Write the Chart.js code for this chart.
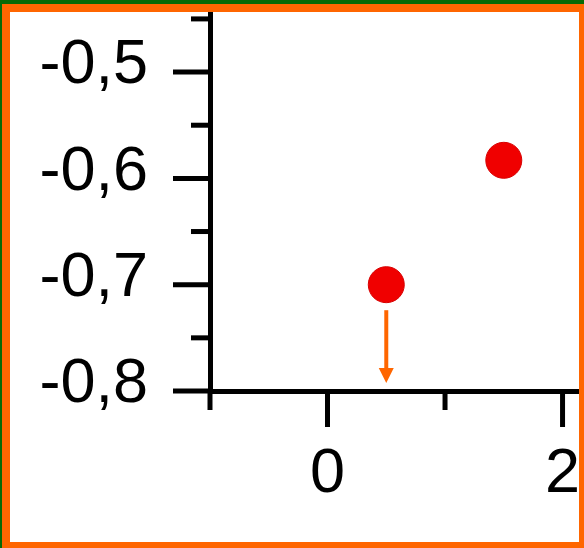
<!DOCTYPE html>
<html>
<head>
<meta charset="utf-8">
<script src="https://cdn.jsdelivr.net/npm/chart.js@4/dist/chart.umd.min.js"></script>
<style>
  html, body { margin: 0; padding: 0; background: #066a06; }
  #frame { position: absolute; left: 2px; top: 4px; width: 582px; height: 544px; background: #ff6600; }
  #inner { position: absolute; left: 8px; top: 8px; width: 569px; height: 530px; background: #fff; overflow: hidden; }
  canvas { display: block; }
</style>
</head>
<body>
<div id="frame"><div id="inner"><canvas id="chart" width="569" height="530"></canvas></div></div>
<script>
(function() {
  // points
  const xValues = [0.5, 1.5];
  const yValues = [-0.7, -0.583];

  // axis ticks
  const xMajorTicks = [0, 2];
  const xMinorTicks = [-1, 1];
  const yMajorTicks = [-0.8, -0.7, -0.6, -0.5];
  const yMinorTicks = [-0.75, -0.65, -0.55, -0.45];

  // arrow under the first point
  const arrowX = 0.5;
  const arrowFrom = -0.724;
  const arrowTo = -0.7925;

  const FONT = { family: '"Liberation Sans", Arial, sans-serif', size: 63 };
  const fmt = v => (Math.round(v * 10) / 10).toFixed(1).replace('.', ',');

  const tickMarks = {
    id: 'tickMarks',
    afterDraw(chart) {
      const ctx = chart.ctx;
      const xs = chart.scales.x, ys = chart.scales.y;
      const ax = chart.chartArea.left, ay = chart.chartArea.bottom;
      ctx.save();
      ctx.strokeStyle = '#000';
      ctx.lineWidth = 5;
      ctx.lineCap = 'butt';
      function line(x1, y1, x2, y2) {
        ctx.beginPath(); ctx.moveTo(x1, y1); ctx.lineTo(x2, y2); ctx.stroke();
      }
      xMajorTicks.forEach(v => { const p = xs.getPixelForValue(v); line(p, ay, p, ay + 36); });
      xMinorTicks.forEach(v => { const p = xs.getPixelForValue(v); line(p, ay, p, ay + 19); });
      yMajorTicks.forEach(v => { const p = ys.getPixelForValue(v); line(ax, p, ax - 37, p); });
      yMinorTicks.forEach(v => { const p = ys.getPixelForValue(v); line(ax, p, ax - 19, p); });
      ctx.restore();
    }
  };

  const arrow = {
    id: 'arrow',
    afterDatasetsDraw(chart) {
      const ctx = chart.ctx;
      const x = chart.scales.x.getPixelForValue(arrowX);
      const y1 = chart.scales.y.getPixelForValue(arrowFrom);
      const y2 = chart.scales.y.getPixelForValue(arrowTo);
      ctx.save();
      ctx.strokeStyle = '#ff6600';
      ctx.fillStyle = '#ff6600';
      ctx.lineWidth = 4;
      ctx.beginPath(); ctx.moveTo(x, y1); ctx.lineTo(x, y2 - 14); ctx.stroke();
      ctx.beginPath();
      ctx.moveTo(x - 7.5, y2 - 15);
      ctx.lineTo(x + 7.5, y2 - 15);
      ctx.lineTo(x, y2);
      ctx.closePath();
      ctx.fill();
      ctx.restore();
    }
  };

  new Chart(document.getElementById('chart'), {
    type: 'scatter',
    data: {
      datasets: [{
        data: xValues.map((x, i) => ({ x: x, y: yValues[i] })),
        backgroundColor: 'rgb(240,0,0)',
        borderColor: 'rgb(215,0,0)',
        borderWidth: 1,
        pointRadius: 18,
        pointHoverRadius: 18
      }]
    },
    options: {
      responsive: false,
      animation: false,
      devicePixelRatio: 1,
      events: [],
      layout: { padding: 0, autoPadding: false },
      plugins: { legend: { display: false }, tooltip: { enabled: false } },
      scales: {
        x: {
          type: 'linear',
          position: 'bottom',
          min: -1,
          max: 2.14,
          afterBuildTicks: s => { s.ticks = xMajorTicks.map(v => ({ value: v })); },
          afterFit: s => { s.height = 151; s.paddingLeft = 0; s.paddingRight = 0; },
          grid: { display: false, drawTicks: false },
          border: { display: true, color: '#000', width: 5 },
          ticks: {
            font: FONT, color: '#000', padding: 46,
            maxRotation: 0, autoSkip: false,
            callback: v => String(v)
          }
        },
        y: {
          type: 'linear',
          min: -0.8,
          max: -0.4435,
          afterBuildTicks: s => { s.ticks = yMajorTicks.map(v => ({ value: v })); },
          afterFit: s => { s.width = 200; s.paddingTop = 0; s.paddingBottom = 0; },
          grid: { display: false, drawTicks: false },
          border: { display: true, color: '#000', width: 5 },
          ticks: {
            font: FONT, color: '#000', padding: 62, labelOffset: -6,
            autoSkip: false,
            callback: v => fmt(v)
          }
        }
      }
    },
    plugins: [tickMarks, arrow]
  });
})();
</script>
</body>
</html>
